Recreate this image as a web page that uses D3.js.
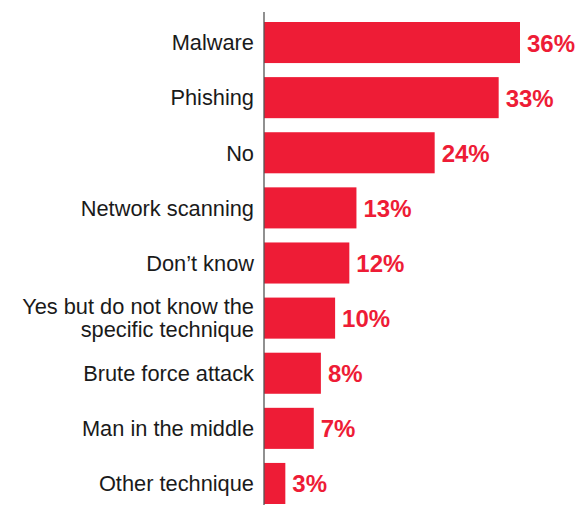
<!DOCTYPE html>
<html>
<head>
<meta charset="utf-8">
<script src="https://cdn.jsdelivr.net/npm/d3@7"></script>
<style>
  html, body { margin: 0; padding: 0; background: #fff; }
  svg { display: block; }
</style>
</head>
<body>
<svg id="chart" width="579" height="505"></svg>
<script>
// Attack techniques and share of respondents (%)
const categories = [
  "Malware",
  "Phishing",
  "No",
  "Network scanning",
  "Don\u2019t know",
  "Yes but do not know the specific technique",
  "Brute force attack",
  "Man in the middle",
  "Other technique"
];
const values = [36, 33, 24, 13, 12, 10, 8, 7, 3];

const svg = d3.select("#chart");
const fontFamily = "'Liberation Sans', Arial, Helvetica, sans-serif";
const barColor = "#ee1c36";

const x = d3.scaleLinear().domain([0, 36]).range([264, 520]);
const y = d3.scaleBand()
  .domain(categories)
  .range([22, 504])
  .paddingInner(0.255)
  .paddingOuter(0);

const data = categories.map((c, i) => ({ cat: c, val: values[i] }));

// Bars
svg.append("g")
  .selectAll("rect")
  .data(data)
  .join("rect")
  .attr("x", x(0))
  .attr("y", d => y(d.cat))
  .attr("width", d => x(d.val) - x(0))
  .attr("height", y.bandwidth())
  .attr("fill", barColor);

// Vertical baseline
svg.append("line")
  .attr("x1", x(0)).attr("x2", x(0))
  .attr("y1", 12).attr("y2", 505)
  .attr("stroke", "#555")
  .attr("stroke-width", 1.3);

// Category labels, wrapped to fit the left margin
const maxLabelWidth = 245;
const lineHeight = 23;
const labels = svg.append("g")
  .selectAll("text")
  .data(data)
  .join("text")
  .attr("x", 254)
  .attr("text-anchor", "end")
  .attr("font-family", fontFamily)
  .attr("font-size", 21.8)
  .attr("fill", "#1a1a1a");

labels.each(function(d) {
  const t = d3.select(this);
  const words = d.cat.split(" ");
  const lines = [];
  let line = [];
  const probe = t.append("tspan");
  words.forEach(w => {
    line.push(w);
    probe.text(line.join(" "));
    if (probe.node().getComputedTextLength() > maxLabelWidth && line.length > 1) {
      line.pop();
      lines.push(line.join(" "));
      line = [w];
    }
  });
  lines.push(line.join(" "));
  probe.remove();
  const cy = y(d.cat) + y.bandwidth() / 2;
  const firstBaseline = cy + 7.8 - (lines.length - 1) * lineHeight / 2;
  lines.forEach((l, i) => {
    t.append("tspan")
      .attr("x", 254)
      .attr("y", firstBaseline + i * lineHeight)
      .text(l);
  });
});

// Value labels
svg.append("g")
  .selectAll("text")
  .data(data)
  .join("text")
  .attr("x", d => x(d.val) + 7)
  .attr("y", d => y(d.cat) + y.bandwidth() / 2 + 9)
  .attr("font-family", fontFamily)
  .attr("font-size", 24)
  .attr("font-weight", "bold")
  .attr("fill", barColor)
  .text(d => d.val + "%");
</script>
</body>
</html>
